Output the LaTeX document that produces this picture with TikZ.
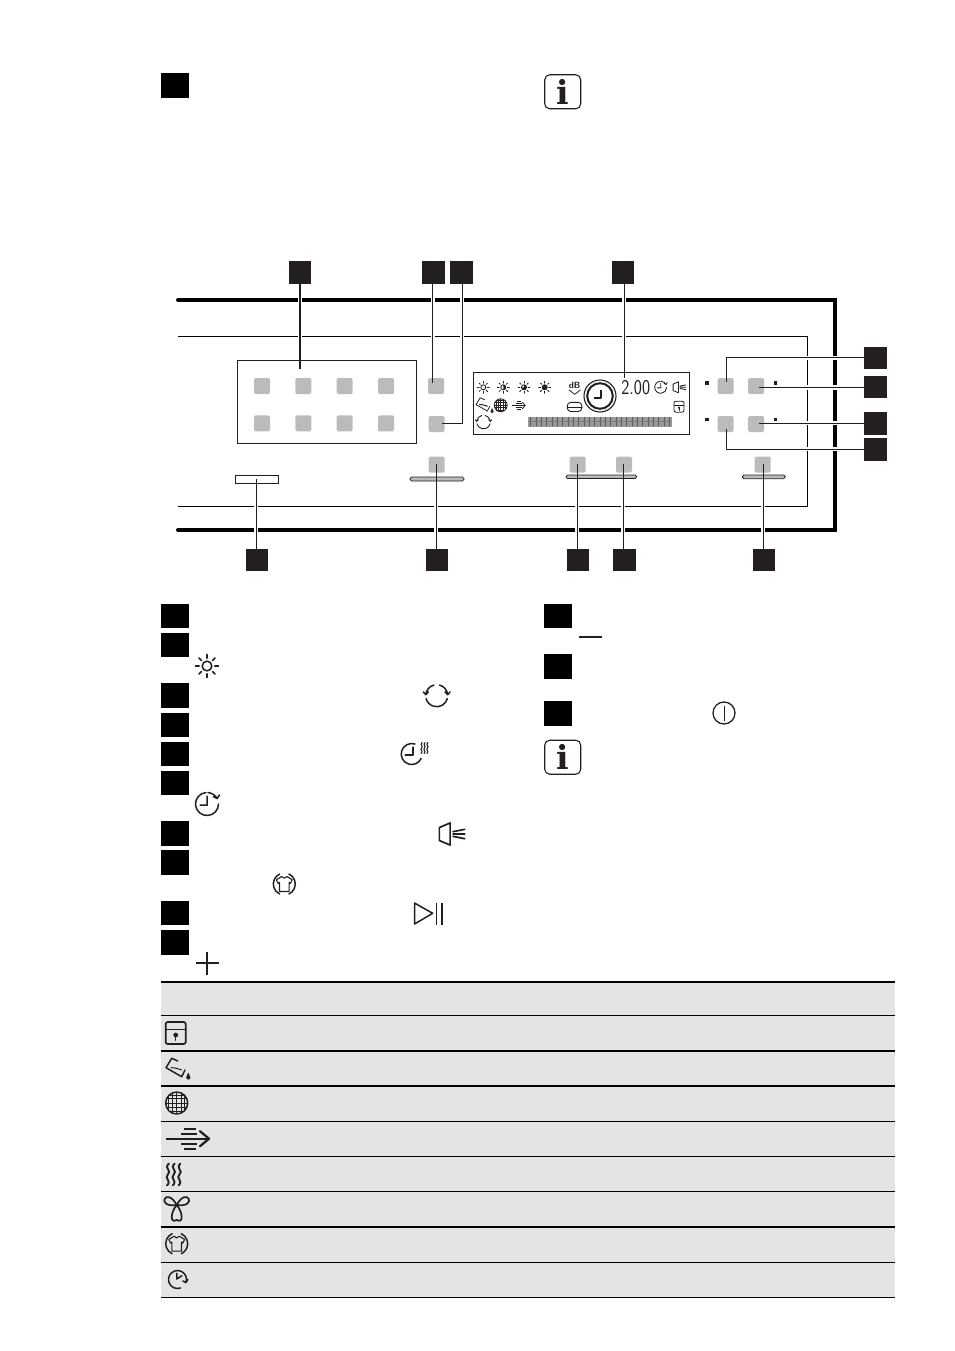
\documentclass[tikz,border=0pt]{standalone}
\usepackage{fontspec}
\usepackage{tikz}
\newfontfamily\infofont{DejaVu Serif}

\definecolor{inkdark}{HTML}{231F20}
\definecolor{keygray}{HTML}{BBBBBB}
\definecolor{rowgray}{HTML}{E4E4E4}

\tikzset{
  callout/.style={fill=inkdark, inner sep=0pt, minimum width=22.5pt, minimum height=22.5pt},
  listbox/.style={fill=black, inner sep=0pt, minimum width=28pt, minimum height=#1},
  keybtn/.style={fill=keygray, rounded corners=1.5pt, inner sep=0pt, minimum size=16pt},
  dotbox/.style={fill=inkdark, inner sep=0pt, minimum size=3.6pt},
  infobox/.style={draw=inkdark, line width=1.1pt, rounded corners=5pt, inner sep=0pt,
    minimum width=36pt, minimum height=34pt, text=inkdark, font=\fontsize{33}{33}\infofont\bfseries},
  leader/.style={draw=inkdark, line width=1.1pt},
  heavyrule/.style={draw=black, line width=4pt, line cap=round},
  lightrule/.style={draw=black, line width=.9pt},
  icon/.style={draw=inkdark, line width=1.5pt, line cap=round, line join=round},
  pics/sunlamp/.style 2 args={code={
    \draw[icon] (0,0) circle (.42);
    \fill[inkdark] (0,0) -- (#1:.42) arc[start angle=#1, end angle=#2, radius=.42] -- cycle;
    \foreach \a in {0,45,...,315} \draw[icon] (\a:.68) -- (\a:1);
  }},
  pics/turnring/.style={code={
    \draw[icon] (15:1) arc[start angle=15, end angle=165, radius=1];
    \draw[icon] (-75:1) arc[start angle=-75, end angle=-5, radius=1] ++(-.24,-.26) -- ++(.24,.26) -- ++(.22,-.26);
    \draw[icon] (-105:1) arc[start angle=-105, end angle=-175, radius=1] ++(.24,-.26) -- ++(-.24,.26) -- ++(-.22,-.26);
  }},
  pics/redoclock/.style={code={
    \draw[icon] (-95:1) arc[start angle=-95, end angle=-360, radius=1];
    \draw[icon] (-85:1) arc[start angle=-85, end angle=-28, radius=1] ++(-.32,-.16) -- ++(.32,.16) -- ++(.2,-.32);
    \draw[icon] (0,-.68) -- (.02,.1) -- (-.6,.1);
  }},
  pics/heatclock/.style={code={
    \draw[icon] (-72:1) arc[start angle=-72, end angle=-335, radius=1];
    \draw[icon] (.1,-.65) -- (.1,.1) -- (-.62,.1);
  }},
  pics/heatwave/.style={code={
    \foreach \x in {-5.8,0,5.8}
      \draw[icon] (\x+1,-11) .. controls (\x-4.5,-6) and (\x+4.5,-4) .. (\x,0)
        .. controls (\x-4.5,4) and (\x+4.5,6) .. (\x-1,11);
  }},
  pics/speakerhorn/.style={code={
    \draw[icon] (-.95,-.5) -- (-.12,-.85) -- (-.12,.85) -- (-.95,.5) -- cycle;
    \draw[icon] (.1,-.18) -- (1,-.36) (.1,0) -- (1,0) (.1,.18) -- (1,.36);
  }},
  pics/lockdoor/.style={code={
    \draw[icon, rounded corners=2pt] (-1,-1.1) rectangle (1,1.1);
    \draw[icon] (-1,-.35) -- (1,-.35);
    \fill[inkdark] (0,.2) circle (.24);
    \draw[icon, line width=.9pt] (0,.2) -- (0,.75);
  }},
  pics/pourtray/.style={code={
    \draw[icon] (-.3,-8) -- (-6.3,-10.7) -- (-12,-1.3) -- (3.7,7.7) -- (7,1);
    \draw[icon, line width=1pt] (-7,-1.3) .. controls (-4,-2.5) and (-3,0) .. (-1,-.5) .. controls (1,-1) and (2,1.5) .. (3.7,1);
    \fill[inkdark] (10.3,3.5) .. controls (9.5,6) and (8.2,7) .. (8.2,8.5) arc[start angle=180, delta angle=-180, radius=2.1] .. controls (12.4,7) and (11,6) .. (10.3,3.5);
  }},
  pics/gridball/.style={code={
    \draw[icon] (0,0) circle (1);
    \foreach \p/\q in {0/1,.38/.92,-.38/.92,.72/.69,-.72/.69} {
      \draw[icon, line cap=butt, line width=.75pt] (\p,-\q) -- (\p,\q);
      \draw[icon, line cap=butt, line width=.75pt] (-\q,\p) -- (\q,\p);
    }
  }},
  pics/airflow/.style={code={
    \draw[icon, line cap=butt] (-3.5,-10) -- (8.5,-10) (-6.5,-5) -- (9.5,-5)
      (-6.5,5.3) -- (9.5,5.3) (-3.5,10.3) -- (8.5,10.3);
    \draw[icon, line cap=butt] (-21.5,0) -- (21,0);
    \draw[icon] (12.5,-7.5) -- (21.5,0) -- (12.5,7.5);
  }},
  pics/fanblade/.style={code={
    \draw[icon] (0,0) .. controls (-62:2) and (8:2) .. (0,0);
    \draw[icon] (0,0) .. controls (-118:2) and (-188:2) .. (0,0);
    \draw[icon] (0,0) .. controls (-.6,.7) and (-.6,1.75) .. (0,1.35) .. controls (.6,1.75) and (.6,.7) .. (0,0);
  }},
  pics/shirtring/.style={code={
    \draw[icon] (-65:1) arc[start angle=-65, end angle=65, radius=1];
    \draw[icon] (115:1) arc[start angle=115, end angle=245, radius=1];
    \draw[icon, line width=1.1pt] (-.25,-.68) -- (-.72,-.38) -- (-.55,-.05) -- (-.44,-.15) -- (-.44,.68) -- (.44,.68) -- (.44,-.15) -- (.55,-.05) -- (.72,-.38) -- (.25,-.68) .. controls (.1,-.48) and (-.1,-.48) .. (-.25,-.68);
  }},
  pics/timerback/.style={code={
    \draw[icon] (70:1) arc[start angle=70, delta angle=310, radius=1] ++(-.35,-.18) -- ++(.35,.18) -- ++(.22,-.35);
    \draw[icon] (-.08,-.68) -- (-.08,-.05) -- (.48,-.42);
  }},
}

\begin{document}
\begin{tikzpicture}[x=1pt,y=-1pt]
\useasboundingbox (0,0) rectangle (954,1351);

\draw[heavyrule] (178,300) -- (834.7,300) -- (834.7,530) -- (178,530);
\draw[lightrule] (178,336.4) -- (807.6,336.4) -- (807.6,506.5) -- (178,506.5);
\foreach \x in {300,432.7,462.3,624.3} \draw[white, line width=4.2pt] (\x,296) -- (\x,304) (\x,335) -- (\x,338);
\foreach \x in {256.3,436.3,577.3,623.3,763.3} \draw[white, line width=4.2pt] (\x,505) -- (\x,508) (\x,526) -- (\x,534);
\foreach \y in {357.7,387.5,423.3,449.3} \draw[white, line width=4.2pt] (806,\y) -- (809,\y) (831,\y) -- (839,\y);

\fill[rowgray] (161,982) rectangle (895,1297);
\foreach \y/\w in {982/1.6,1015/.9,1051/1.6,1086/1.6,1121/.9,1156.3/.9,1191.3/.9,1226.7/1.6,1262/.9,1297.3/.9}
  \draw[black, line width=\w pt] (161,\y) -- (895,\y);

\node[listbox=25pt] (t1) at (175,85.5) {};
\node[infobox] (info1) at (562.7,91.8) {i};

\node[callout] (c1) at (300,272.5) {};
\node[callout] (c2) at (433.5,272.5) {};
\node[callout] (c3) at (461.5,272.5) {};
\node[callout] (c4) at (623,272.5) {};
\node[callout] (d1) at (257,560) {};
\node[callout] (d2) at (437,560) {};
\node[callout] (d3) at (578,560) {};
\node[callout] (d4) at (624.5,560) {};
\node[callout] (d5) at (764,560) {};
\node[callout] (r1) at (875.5,358) {};
\node[callout] (r2) at (875.5,387) {};
\node[callout] (r3) at (875.5,423.5) {};
\node[callout] (r4) at (875.5,449.5) {};

\node[draw=inkdark, line width=.9pt, inner sep=0pt, minimum width=179.4pt, minimum height=83pt] (progbox) at (327,401.8) {};
\node[draw=inkdark, line width=.9pt, inner sep=0pt, minimum width=43.4pt, minimum height=8.4pt] (sensor) at (257,479.5) {};
\node[draw=inkdark, line width=.9pt, inner sep=0pt, minimum width=216.4pt, minimum height=62pt] (screen) at (581.5,403.3) {};

\foreach \x in {262,303.3,344.7,386} \foreach \y in {386,423.3} \node[keybtn] at (\x,\y) {};
\node[keybtn] (b1) at (436,386) {};
\node[keybtn] (b2) at (436.7,424) {};
\node[keybtn] (b3) at (436.7,464.7) {};
\node[keybtn] (b4) at (577.7,464.7) {};
\node[keybtn] (b5) at (624,464.7) {};
\node[keybtn] (b6) at (762.7,464.7) {};
\node[keybtn] (b7) at (725.7,386) {};
\node[keybtn] (b8) at (756,386) {};
\node[keybtn] (b9) at (725.7,424) {};
\node[keybtn] (b10) at (756,424) {};

\node[dotbox] (p1) at (707,382.7) {};
\node[dotbox] (p2) at (775.3,382.7) {};
\node[dotbox] (p3) at (707,419.3) {};
\node[dotbox] (p4) at (775.3,419.3) {};

\draw[draw=inkdark, fill=keygray, line width=.8pt, rounded corners=1.6pt] (410,477) rectangle (464,481);
\draw[draw=inkdark, fill=keygray, line width=.8pt, rounded corners=1.6pt] (566,475) rectangle (636.7,478.5);
\draw[draw=inkdark, fill=keygray, line width=.8pt, rounded corners=1.6pt] (742.3,475) rectangle (785.3,478.7);

\coordinate (e1) at (300,369);
\coordinate (e2) at (432.7,382.7);
\coordinate (e3) at (441.7,423.3);
\coordinate (e4) at (624.3,378);
\coordinate (e5) at (256.3,479);
\coordinate (e6) at (436.3,464);
\coordinate (e7) at (577.3,464);
\coordinate (e8) at (623.3,464);
\coordinate (e9) at (763.3,464);
\coordinate (e10) at (726.7,382);
\coordinate (e11) at (759.3,387.5);
\coordinate (e12) at (759.3,423.3);
\coordinate (e13) at (726.7,429);

\draw[leader, line width=1.8pt] (c1.south) -- (e1);
\draw[leader] (e2 |- c2.south) -- (e2);
\draw[leader] (c3.south) ++(.8,0) |- (e3);
\draw[leader] (e4 |- c4.south) -- (e4);
\draw[leader] (e5 |- d1.north) -- (e5);
\draw[leader] (e6 |- d2.north) -- (e6);
\draw[leader] (e7 |- d3.north) -- (e7);
\draw[leader] (e8 |- d4.north) -- (e8);
\draw[leader] (e9 |- d5.north) -- (e9);
\draw[leader, line width=1.3pt] (r1.west) ++(0,-.3) -| (e10);
\draw[leader] (r2.west |- e11) -- (e11);
\draw[leader] (r3.west) ++(0,-.2) -- (e12);
\draw[leader] (r4.west) ++(0,-.2) -| (e13);

\foreach \x/\a/\b in {483.3/0/0,503.3/-90/90,524/-90/180,544.7/0/360}
  \pic[scale=6, icon/.append style={line width=.85pt}] at (\x,387.3) {sunlamp={\a}{\b}};
\node[inner sep=0pt, text=inkdark, font=\fontsize{9}{9}\selectfont\sffamily\bfseries] (dbmark) at (574.7,385) {dB};
\draw[icon, line width=.8pt] (569,390) -- (574.7,394.3) -- (580.3,390);
\draw[icon, line width=.9pt, rounded corners=3.5pt] (567.3,402.3) rectangle (581.8,411.5);
\draw[icon, line width=.9pt] (567.3,407) -- (581.8,407);
\draw[icon, line width=1.1pt] (600,396) circle (16);
\draw[icon, line width=2pt] (600,396) circle (12.8);
\draw[icon, line width=1.7pt, line cap=butt] (600.7,389.5) -- (600.7,398.2) -- (593.5,398.2);
\node[inner sep=0pt, text=inkdark, font=\fontsize{21}{21}\selectfont\sffamily] (clocktime) at (635.7,387.5) {\scalebox{.82}[1]{2.00}};
\pic[scale=6, icon/.append style={line width=.85pt}] at (660.7,387.3) {redoclock};
\pic[scale=6.5, icon/.append style={line width=.85pt}] at (679.3,387.3) {speakerhorn};
\pic[scale=5, icon/.append style={line width=.85pt}] at (679,406.7) {lockdoor};
\pic[scale=.72, icon/.append style={line width=.8pt}] at (484.7,405.5) {pourtray};
\pic[scale=6.5, icon/.append style={line width=.8pt}] at (500.7,405.3) {gridball};
\pic[xscale=.32, yscale=.4, icon/.append style={line width=.75pt}] at (518.5,405.5) {airflow};
\pic[scale=6.8, icon/.append style={line width=.9pt}] at (483.5,422) {turnring};
\fill[gray!80] (528.3,416.7) rectangle (672.3,426.7);
\foreach \i in {0,...,26} {
  \draw[black!65, line width=.9pt] (530.8+\i*5.33,417) -- (530.8+\i*5.33,426.4);
  \draw[black!55, line width=.6pt] (528.8+\i*5.33,421.7) -- (532.8+\i*5.33,421.7);
}

\node[listbox=24pt] (l1) at (175,616) {};
\node[listbox=24pt] (l2) at (175,645) {};
\node[listbox=25pt] (l3) at (175,695.5) {};
\node[listbox=24pt] (l4) at (175,725) {};
\node[listbox=24pt] (l5) at (175,754) {};
\node[listbox=24pt] (l6) at (175,783) {};
\node[listbox=25pt] (l7) at (175,833.5) {};
\node[listbox=25pt] (l8) at (175,862.5) {};
\node[listbox=24pt] (l9) at (175,913) {};
\node[listbox=25pt] (l10) at (175,942.5) {};
\node[listbox=24pt] (l11) at (558,616) {};
\node[listbox=25pt] (l12) at (558,666.5) {};
\node[listbox=25pt] (l13) at (558,713.5) {};
\node[infobox] (info2) at (562.7,757.2) {i};

\pic[scale=11.5] at (207,666) {sunlamp={0}{0}};
\pic[scale=11] at (436.7,695.7) {turnring};
\pic[scale=10.5] at (411.7,754) {heatclock};
\pic[scale=.5, icon/.append style={line width=1.1pt}] at (424.5,748) {heatwave};
\pic[scale=11.5] at (207,804) {redoclock};
\pic[scale=13, icon/.append style={line width=1.7pt}] at (451.7,834) {speakerhorn};
\pic[scale=11] at (284.3,884) {shirtring};
\draw[icon] (414.5,903) -- (432.7,913.3) -- (414.5,924) -- cycle;
\draw[icon, line cap=butt] (436.7,902.5) -- (436.7,925) (442.2,902.5) -- (442.2,925);
\draw[icon, line width=1.8pt, line cap=butt] (195.5,963) -- (218.5,963) (207,951.5) -- (207,974.5);
\draw[icon, line width=1.8pt, line cap=butt] (578.5,637.2) -- (601.5,637.2);
\draw[icon, line width=1.3pt] (724,713) circle (11);
\draw[icon, line width=.9pt, line cap=butt] (724,705.5) -- (724,720.5);

\pic[scale=10, icon/.append style={line width=1.7pt}] at (175.7,1033) {lockdoor};
\pic at (178,1069) {pourtray};
\pic[scale=11] at (176.7,1103) {gridball};
\pic[icon/.append style={line width=2.3pt}] at (187.5,1138.7) {airflow};
\pic[icon/.append style={line width=1.9pt}] at (173.7,1174.5) {heatwave};
\pic[scale=11, icon/.append style={line width=1.7pt}] at (176.7,1205) {fanblade};
\pic[scale=11] at (176.7,1243.7) {shirtring};
\pic[scale=9] at (177.5,1279.5) {timerback};
\end{tikzpicture}
\end{document}
